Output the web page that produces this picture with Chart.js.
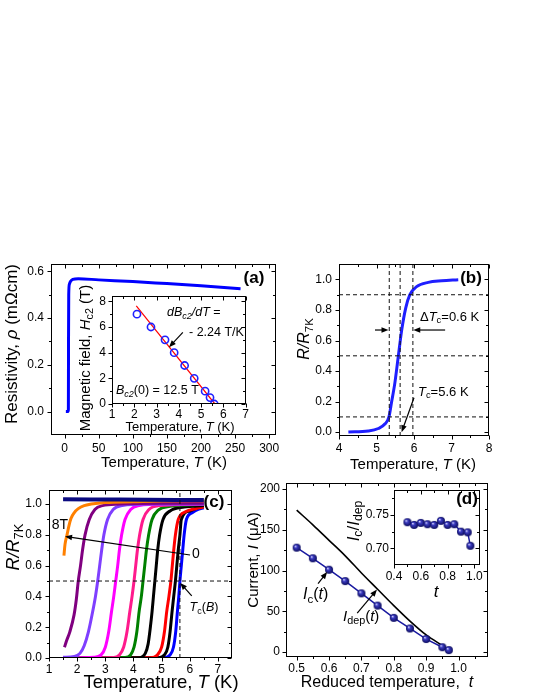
<!DOCTYPE html>
<html><head><meta charset="utf-8">
<script src="https://cdn.jsdelivr.net/npm/chart.js@4.4.0/dist/chart.umd.min.js"></script>
<style>
html,body{margin:0;padding:0;background:#fff;}
body{width:540px;height:699px;position:relative;overflow:hidden;}
canvas{position:absolute;}
</style></head><body>
<script>
// ================= DATA =================
// (a) resistivity vs temperature
const aTemp = [1.8, 5.0, 5.5, 5.7, 6.0, 7, 9, 12, 20, 50, 100, 150, 200, 258];
const aRho  = [0, 0, 0.01, 0.3, 0.5, 0.545, 0.558, 0.565, 0.568, 0.563, 0.556, 0.547, 0.538, 0.525];
const aXTicks = [0, 50, 100, 150, 200, 250, 300];
const aXLabels = ['0', '50', '100', '150', '200', '250', '300'];
const aXMinor = [25, 75, 125, 175, 225, 275];
const aYTicks = [0, 0.2, 0.4, 0.6];
const aYLabels = ['0.0', '0.2', '0.4', '0.6'];
const aYMinor = [0.1, 0.3, 0.5];

// (a) inset: upper critical field
const aiTc = [2.12, 2.75, 3.38, 3.79, 4.26, 4.69, 5.18, 5.40, 5.59];
const aiB  = [7, 6, 5, 4, 3, 2, 1, 0.5, 0];
const aiFitT = [2.09, 5.62];
const aiFitB = [7.65, 0];
const aiXTicks = [1, 2, 3, 4, 5, 6, 7];
const aiXLabels = ['1', '2', '3', '4', '5', '6', '7'];
const aiXMinor = [1.5, 2.5, 3.5, 4.5, 5.5, 6.5];
const aiYTicks = [0, 2, 4, 6, 8];
const aiYLabels = ['0', '2', '4', '6', '8'];
const aiYMinor = [1, 3, 5, 7];

// (b) normalised resistance, zero field
const bTemp = [4.25, 4.78, 5.05, 5.23, 5.33, 5.40, 5.49, 5.58, 5.67, 5.78, 5.89, 6.07, 6.38, 6.74, 7.18];
const bR    = [0.002, 0.008, 0.024, 0.055, 0.098, 0.194, 0.323, 0.494, 0.665, 0.814, 0.900, 0.953, 0.981, 0.991, 0.998];
const bVLines = [5.34, 5.63, 5.97];
const bHLines = [0.1, 0.5, 0.9];
const bXTicks = [4, 5, 6, 7, 8];
const bXLabels = ['4', '5', '6', '7', '8'];
const bXMinor = [4.5, 5.5, 6.5, 7.5];
const bYTicks = [0, 0.2, 0.4, 0.6, 0.8, 1.0];
const bYLabels = ['0.0', '0.2', '0.4', '0.6', '0.8', '1.0'];
const bYMinor = [0.1, 0.3, 0.5, 0.7, 0.9];

// (c) R/R7K curves in field (T, R/R7K)
const cHigh = [[1.5,1.031],[2.5,1.030],[3.5,1.029],[4.5,1.028],[5.5,1.027],[6.5,1.026]];
const c8T  = [[1.53,0.665],[1.57,0.74],[1.64,0.80],[1.71,0.86],[1.78,0.906],[1.9,0.945],[2.04,0.97],[2.25,0.99],[2.5,1.0],[3.0,1.01],[4.0,1.015],[5.0,1.02],[6.5,1.022]];
const c7T  = [[1.55,0.07],[1.62,0.11],[1.74,0.17],[1.89,0.28],[1.97,0.38],[2.04,0.5],[2.12,0.6],[2.19,0.7],[2.28,0.8],[2.43,0.9],[2.63,0.965],[2.9,0.99],[3.5,1.0],[5.0,1.005],[6.5,1.005]];
const c6T  = [[1.5,0.005],[1.9,0.01],[2.1,0.03],[2.25,0.08],[2.4,0.17],[2.55,0.3],[2.65,0.4],[2.73,0.5],[2.8,0.6],[2.87,0.7],[2.95,0.8],[3.08,0.9],[3.28,0.965],[3.6,0.99],[4.5,1.0],[6.5,1.0]];
const c5T  = [[1.5,0],[2.6,0.005],[2.85,0.02],[3.0,0.07],[3.12,0.17],[3.22,0.3],[3.3,0.4],[3.37,0.5],[3.44,0.6],[3.5,0.7],[3.58,0.8],[3.7,0.9],[3.9,0.965],[4.2,0.99],[5.0,1.0],[6.5,1.0]];
const c4T  = [[1.5,0],[3.3,0.003],[3.5,0.02],[3.65,0.07],[3.77,0.17],[3.87,0.3],[3.95,0.4],[4.02,0.5],[4.08,0.6],[4.14,0.7],[4.22,0.8],[4.34,0.9],[4.55,0.965],[4.9,0.99],[6.5,1.0]];
const c3T  = [[1.5,0],[3.7,0.003],[3.9,0.02],[4.02,0.07],[4.12,0.17],[4.2,0.3],[4.28,0.4],[4.34,0.5],[4.4,0.6],[4.46,0.7],[4.54,0.8],[4.66,0.9],[4.88,0.96],[5.3,0.985],[6.5,0.998]];
const c2T  = [[1.5,0],[4.2,0.002],[4.42,0.03],[4.52,0.09],[4.6,0.2],[4.66,0.3],[4.71,0.4],[4.76,0.5],[4.81,0.6],[4.86,0.7],[4.93,0.8],[5.05,0.9],[5.3,0.955],[5.8,0.98],[6.5,0.99]];
const c1T  = [[1.5,0],[4.6,0.002],[4.85,0.02],[5.0,0.07],[5.1,0.17],[5.18,0.3],[5.26,0.4],[5.33,0.5],[5.38,0.6],[5.43,0.7],[5.49,0.8],[5.59,0.9],[5.85,0.95],[6.2,0.97],[6.5,0.98]];
const c05T = [[1.5,0],[4.9,0.002],[5.1,0.02],[5.22,0.07],[5.3,0.17],[5.37,0.3],[5.43,0.4],[5.49,0.5],[5.54,0.6],[5.59,0.7],[5.65,0.8],[5.7,0.9],[6.0,0.955],[6.3,0.978],[6.5,0.985]];
const c0T  = [[1.5,0],[5.1,0.002],[5.3,0.02],[5.42,0.07],[5.5,0.17],[5.56,0.3],[5.61,0.4],[5.65,0.5],[5.7,0.6],[5.75,0.7],[5.8,0.8],[5.88,0.9],[6.1,0.945],[6.3,0.965],[6.5,0.975]];
const cHLine = 0.5;
const cVLine = 5.65;
const cXTicks = [1, 2, 3, 4, 5, 6, 7];
const cXLabels = ['1', '2', '3', '4', '5', '6', '7'];
const cXMinor = [1.5, 2.5, 3.5, 4.5, 5.5, 6.5];
const cYTicks = [0, 0.2, 0.4, 0.6, 0.8, 1.0];
const cYLabels = ['0.0', '0.2', '0.4', '0.6', '0.8', '1.0'];
const cYMinor = [0.1, 0.3, 0.5, 0.7, 0.9];

// (d) critical and depairing currents vs reduced temperature
const dT    = [0.5, 0.55, 0.6, 0.65, 0.7, 0.75, 0.8, 0.85, 0.9, 0.95, 0.97];
const dIc   = [128, 115, 101, 87, 72, 57, 42, 29, 16, 6, 2.5];
const dTdep = [0.5, 0.55, 0.6, 0.65, 0.7, 0.75, 0.8, 0.85, 0.9, 0.95];
const dIdep = [174, 156, 137, 118, 97, 77, 57, 38, 21, 8];
const dXTicks = [0.5, 0.6, 0.7, 0.8, 0.9, 1.0];
const dXLabels = ['0.5', '0.6', '0.7', '0.8', '0.9', '1.0'];
const dXMinor = [0.55, 0.65, 0.75, 0.85, 0.95, 1.05];
const dYTicks = [0, 50, 100, 150, 200];
const dYLabels = ['0', '50', '100', '150', '200'];
const dYMinor = [25, 75, 125, 175];

// (d) inset: Ic/Idep
const diRatio = [0.739, 0.735, 0.738, 0.736, 0.735, 0.741, 0.735, 0.736, 0.725, 0.724, 0.704];
const diXTicks = [0.4, 0.6, 0.8, 1.0];
const diXLabels = ['0.4', '0.6', '0.8', '1.0'];
const diXMinor = [0.5, 0.7, 0.9];
const diYTicks = [0.70, 0.75];
const diYLabels = ['0.70', '0.75'];
const diYMinor = [0.725, 0.775];

// ================= RENDERING =================
const FAM = "'Liberation Sans', Arial, Helvetica, sans-serif";
const P = (xs, ys) => xs.map((x, i) => ({x: x, y: ys[i]}));
const PP = arr => arr.map(p => ({x: p[0], y: p[1]}));
const N = t => ({t});
const I = t => ({t, i: true});
const S = t => ({t, sub: true});
const IS = t => ({t, sub: true, i: true});

function segFont(s, size, bold) {
  const sz = s.sub ? size * 0.72 : size;
  return (s.i ? 'italic ' : '') + (bold ? 'bold ' : '') + sz + 'px ' + FAM;
}
function drawRich(c, x, y, segs, size, o) {
  c.save();
  c.translate(x, y);
  if (o.rot) c.rotate(o.rot * Math.PI / 180);
  c.textBaseline = 'middle';
  c.textAlign = 'left';
  c.fillStyle = '#000';
  let w = 0;
  for (const s of segs) { c.font = segFont(s, size, o.bold); w += c.measureText(s.t).width; }
  let cx = o.align === 'left' ? 0 : -w / 2;
  for (const s of segs) {
    c.font = segFont(s, size, o.bold);
    c.fillText(s.t, cx, s.sub ? size * 0.3 : 0);
    cx += c.measureText(s.t).width;
  }
  c.restore();
}
function arrow(c, x1, y1, x2, y2) {
  const a = Math.atan2(y2 - y1, x2 - x1), L = 7, W = 2.8;
  c.beginPath(); c.moveTo(x1, y1); c.lineTo(x2 - Math.cos(a) * L * 0.7, y2 - Math.sin(a) * L * 0.7); c.stroke();
  c.beginPath(); c.moveTo(x2, y2);
  c.lineTo(x2 - L * Math.cos(a) + W * Math.sin(a), y2 - L * Math.sin(a) - W * Math.cos(a));
  c.lineTo(x2 - L * Math.cos(a) - W * Math.sin(a), y2 - L * Math.sin(a) + W * Math.cos(a));
  c.closePath(); c.fill();
}

const DECO = {};
const decoPlugin = {
  id: 'deco',
  beforeDraw(chart) {
    const d = DECO[chart.canvas.id];
    if (!d.fill) return;
    const a = chart.chartArea, c = chart.ctx;
    c.save(); c.fillStyle = '#fff';
    c.fillRect(a.left, a.top, a.right - a.left, a.bottom - a.top);
    c.restore();
  },
  afterDraw(chart) {
    const d = DECO[chart.canvas.id];
    const a = chart.chartArea, c = chart.ctx;
    const xs = chart.scales.x, ys = chart.scales.y;
    c.save();
    c.strokeStyle = '#000'; c.fillStyle = '#000'; c.lineWidth = 1;
    const L = Math.round(a.left) + 0.5, R = Math.round(a.right) - 0.5;
    const T = Math.round(a.top) + 0.5, B = Math.round(a.bottom) - 0.5;
    c.beginPath();
    const tick = (vals, len) => {
      for (const v of vals) {
        const px = Math.round(xs.getPixelForValue(v)) + 0.5;
        if (px < L - 1 || px > R + 1) continue;
        c.moveTo(px, B); c.lineTo(px, B + len);
        c.moveTo(px, T); c.lineTo(px, T + len);
      }
    };
    const tickY = (vals, len) => {
      for (const v of vals) {
        const py = Math.round(ys.getPixelForValue(v)) + 0.5;
        if (py < T - 1 || py > B + 1) continue;
        c.moveTo(L - len, py); c.lineTo(L, py);
        c.moveTo(R - len, py); c.lineTo(R, py);
      }
    };
    tick(d.xt, 4); tick(d.xm, 2.5);
    tickY(d.yt, 4); tickY(d.ym, 2.5);
    c.stroke();
    c.strokeRect(L, T, R - L, B - T);
    c.lineWidth = 1.2;
    for (const ar of (d.arrows || [])) {
      arrow(c, xs.getPixelForValue(ar[0]), ys.getPixelForValue(ar[1]),
               xs.getPixelForValue(ar[2]), ys.getPixelForValue(ar[3]));
    }
    for (const t of (d.texts || [])) {
      drawRich(c, t.at[0] - d.g.x, t.at[1] - d.g.y, t.segs, t.size, t);
    }
    c.restore();
  }
};

function axis(min, max, ticks, labels, pad, dir, size) {
  return {
    type: 'linear', min: min, max: max, bounds: 'data',
    afterBuildTicks: s => { s.ticks = ticks.map(v => ({value: v})); },
    afterFit: s => { if (dir === 'x') s.height = size; else s.width = size; },
    grid: {display: false, drawTicks: false}, border: {display: false},
    ticks: {autoSkip: false, maxRotation: 0, minRotation: 0, padding: pad, color: '#000',
            font: {family: FAM, size: 12}, callback: (v, i) => labels[i]}
  };
}

function mk(id, g, datasets, X, Y, deco) {
  const cv = document.createElement('canvas');
  cv.id = id; cv.width = g.w; cv.height = g.h;
  cv.style.left = g.x + 'px'; cv.style.top = g.y + 'px';
  cv.style.width = g.w + 'px'; cv.style.height = g.h + 'px';
  document.body.appendChild(cv);
  DECO[id] = Object.assign({g: g, xt: X.ticks, xm: X.minor, yt: Y.ticks, ym: Y.minor}, deco);
  return new Chart(cv.getContext('2d'), {
    type: 'scatter',
    data: {datasets: datasets},
    options: {
      responsive: false, animation: false, devicePixelRatio: 1, events: [],
      layout: {padding: {left: 0, top: g.mt, right: g.mr, bottom: 0}, autoPadding: false},
      plugins: {legend: {display: false}, tooltip: {enabled: false}},
      scales: {
        x: axis(X.min, X.max, X.ticks, X.labels, X.pad, 'x', g.mb),
        y: axis(Y.min, Y.max, Y.ticks, Y.labels, Y.pad, 'y', g.ml)
      }
    },
    plugins: [decoPlugin]
  });
}

const line = (data, color, width, extra) => Object.assign({
  data: data, showLine: true, borderColor: color, backgroundColor: color,
  borderWidth: width, pointRadius: 0, fill: false
}, extra || {});
const smooth = {cubicInterpolationMode: 'monotone'};
const dash = {borderDash: [4, 3]};

function makeBall(r) {
  const s = Math.ceil(r * 2) + 2;
  const cv = document.createElement('canvas'); cv.width = s; cv.height = s;
  const g = cv.getContext('2d'), cx = s / 2, cy = s / 2;
  const gr = g.createRadialGradient(cx - r * 0.35, cy - r * 0.4, r * 0.05, cx, cy, r);
  gr.addColorStop(0, '#d8d8ff'); gr.addColorStop(0.35, '#3a3ac0'); gr.addColorStop(1, '#0a0a5c');
  g.fillStyle = gr; g.beginPath(); g.arc(cx, cy, r, 0, Math.PI * 2); g.fill();
  return cv;
}
const ball = makeBall(4);

const TEMP = [N('Temperature, '), I('T'), N(' (K)')];

// ----- (a) -----
mk('ca', {x: 0, y: 250, w: 292, h: 230, ml: 51, mt: 10, mr: 16, mb: 45},
  [line(P(aTemp, aRho), '#0000ff', 3, smooth)],
  {min: -20, max: 310, ticks: aXTicks, labels: aXLabels, minor: aXMinor, pad: 6},
  {min: -0.1, max: 0.63, ticks: aYTicks, labels: aYLabels, minor: aYMinor, pad: 7},
  {texts: [
    {at: [12, 344], rot: -90, size: 17, segs: [N('Resistivity, '), I('ρ'), N(' (mΩcm)')]},
    {at: [164, 463], size: 15, segs: TEMP},
    {at: [254, 278], size: 17, bold: true, segs: [N('(a)')]}
  ]});

// ----- (a) inset -----
mk('cai', {x: 74, y: 283, w: 178, h: 154, ml: 38, mt: 5, mr: 4, mb: 33},
  [
    {data: P(aiTc, aiB), showLine: false, pointRadius: 3.6, pointBorderWidth: 1.6,
     pointBorderColor: '#1f1fff', pointBackgroundColor: 'rgba(255,255,255,0)'},
    line(P(aiFitT, aiFitB), '#ff0000', 1.2)
  ],
  {min: 1, max: 7, ticks: aiXTicks, labels: aiXLabels, minor: aiXMinor, pad: 3},
  {min: 0, max: 8.4, ticks: aiYTicks, labels: aiYLabels, minor: aiYMinor, pad: 6},
  {fill: true,
   arrows: [[4.18, 5.58, 3.56, 4.42]],
   texts: [
    {at: [86, 358], rot: -90, size: 15, segs: [N('Magnetic field, '), I('H'), S('c2'), N(' (T)')]},
    {at: [180, 427], size: 13, segs: TEMP},
    {at: [167, 313], align: 'left', size: 12.5, segs: [I('dB'), IS('c2'), I('/dT'), N(' =')]},
    {at: [189, 333], align: 'left', size: 12.5, segs: [N('- 2.24 T/K')]},
    {at: [116, 391], align: 'left', size: 12.5, segs: [I('B'), IS('c2'), N('(0) = 12.5 T')]}
  ]});

// ----- (b) -----
const bDs = [];
bVLines.forEach(v => bDs.push(line([{x: v, y: -0.025}, {x: v, y: 1.1}], '#111', 1, dash)));
bHLines.forEach(v => bDs.push(line([{x: 4, y: v}, {x: 8, y: v}], '#111', 1, dash)));
bDs.push(line(P(bTemp, bR), '#1f1fff', 3, smooth));
mk('cb', {x: 293, y: 250, w: 247, h: 230, ml: 46, mt: 10, mr: 51, mb: 44},
  bDs,
  {min: 4, max: 8, ticks: bXTicks, labels: bXLabels, minor: bXMinor, pad: 5},
  {min: -0.025, max: 1.1, ticks: bYTicks, labels: bYLabels, minor: bYMinor, pad: 7},
  {arrows: [[4.96, 0.669, 5.32, 0.669], [6.83, 0.669, 5.98, 0.669], [6.0, 0.225, 5.67, 0.0]],
   texts: [
    {at: [305, 339], rot: -90, size: 16, segs: [I('R/R'), S('7K')]},
    {at: [413, 465], size: 15, segs: TEMP},
    {at: [471, 278], size: 17, bold: true, segs: [N('(b)')]},
    {at: [420, 317], align: 'left', size: 13, segs: [N('Δ'), I('T'), S('c'), N('=0.6 K')]},
    {at: [418, 392], align: 'left', size: 13, segs: [I('T'), S('c'), N('=5.6 K')]}
  ]});

// ----- (c) -----
const cDs = [
  line([{x: 1, y: cHLine}, {x: 7.5, y: cHLine}], '#111', 1, dash),
  line([{x: cVLine, y: 0}, {x: cVLine, y: 1.09}], '#111', 1, dash),
  line(PP(cHigh), '#0a0a80', 4, smooth),
  line(PP(c8T), '#ff8000', 3, smooth),
  line(PP(c7T), '#800080', 3, smooth),
  line(PP(c6T), '#7f3fff', 3, smooth),
  line(PP(c5T), '#ff00ff', 3, smooth),
  line(PP(c4T), '#ff1a8c', 3, smooth),
  line(PP(c3T), '#008000', 3, smooth),
  line(PP(c2T), '#000000', 3, smooth),
  line(PP(c1T), '#ff0000', 3, smooth),
  line(PP(c05T), '#000000', 3, smooth),
  line(PP(c0T), '#0000ff', 3, smooth)
];
mk('cc', {x: 0, y: 476, w: 258, h: 223, ml: 49, mt: 8, mr: 26, mb: 41},
  cDs,
  {min: 1, max: 7.5, ticks: cXTicks, labels: cXLabels, minor: cXMinor, pad: 4},
  {min: 0, max: 1.09, ticks: cYTicks, labels: cYLabels, minor: cYMinor, pad: 7},
  {arrows: [[6.01, 0.669, 1.57, 0.79], [6.07, 0.404, 5.66, 0.487]],
   texts: [
    {at: [14, 547], rot: -90, size: 18, segs: [I('R/R'), S('7K')]},
    {at: [161, 683], size: 18.5, segs: TEMP},
    {at: [214, 502], size: 17, bold: true, segs: [N('(c)')]},
    {at: [60, 525], size: 14, segs: [N('8T')]},
    {at: [196, 554], size: 14, segs: [N('0')]},
    {at: [204, 608], size: 12.5, segs: [I('T'), S('c'), N('('), I('B'), N(')')]}
  ]});

// ----- (d) -----
mk('cd', {x: 244, y: 470, w: 296, h: 229, ml: 42, mt: 9, mr: 52, mb: 42},
  [
    line(P(dT, dIc), '#1a1aa0', 1.5, {pointStyle: ball, pointRadius: 4}),
    line(P(dTdep, dIdep), '#000000', 1.6, smooth)
  ],
  {min: 0.467, max: 1.091, ticks: dXTicks, labels: dXLabels, minor: dXMinor, pad: 4},
  {min: -6, max: 207, ticks: dYTicks, labels: dYLabels, minor: dYMinor, pad: 6},
  {arrows: [[0.566, 83.8, 0.594, 98.2], [0.687, 47.9, 0.748, 76.6]],
   texts: [
    {at: [254, 560], rot: -90, size: 15, segs: [N('Current, '), I('I'), N(' (μA)')]},
    {at: [387, 683], size: 16, segs: [N('Reduced temperature,  '), I('t')]},
    {at: [303, 595], align: 'left', size: 16, segs: [I('I'), S('c'), N('('), I('t'), N(')')]},
    {at: [343, 617], align: 'left', size: 15, segs: [I('I'), S('dep'), N('('), I('t'), N(')')]}
  ]});

// ----- (d) inset -----
mk('cdi', {x: 340, y: 478, w: 147, h: 122, ml: 54, mt: 4, mr: 4, mb: 35},
  [line(P(dT, diRatio), '#1a1aa0', 1.5, {pointStyle: ball, pointRadius: 4})],
  {min: 0.4, max: 1.043, ticks: diXTicks, labels: diXLabels, minor: diXMinor, pad: 4},
  {min: 0.6755, max: 0.7865, ticks: diYTicks, labels: diYLabels, minor: diYMinor, pad: 5},
  {fill: true,
   texts: [
    {at: [354, 521], rot: -90, size: 17, segs: [I('I'), S('c'), N('/'), I('I'), S('dep')]},
    {at: [436, 592], size: 17, segs: [I('t')]},
    {at: [467, 499], size: 17, bold: true, segs: [N('(d)')]}
  ]});
</script>
</body></html>
